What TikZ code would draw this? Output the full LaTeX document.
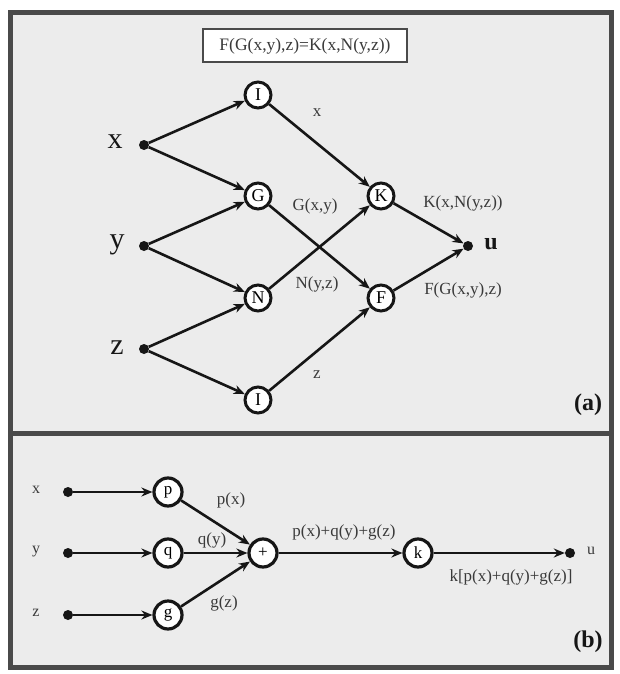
\documentclass[tikz,border=0pt]{standalone}
\usepackage{fontspec}
\setmainfont{Liberation Serif}
\usetikzlibrary{arrows.meta}
\definecolor{bg}{HTML}{ECECEC}
\definecolor{ink}{HTML}{161616}
\definecolor{lab}{HTML}{3A3A3A}
\definecolor{frame}{HTML}{4A4A4A}
\tikzset{
  opnode/.style={circle, draw=ink, line width=3pt, fill=white, minimum size=26pt, inner sep=0pt, font=\fontsize{18}{18}\selectfont},
  opnodeb/.style={circle, draw=ink, line width=3.2pt, fill=white, minimum size=28pt, inner sep=0pt, font=\fontsize{17}{17}\selectfont},
  dotnode/.style={circle, fill=ink, minimum size=10pt, inner sep=0pt},
  conn/.style={draw=ink, line width=2.6pt, -{Stealth[length=11pt,width=9pt]}},
  elab/.style={text=lab, font=\fontsize{17}{17}\selectfont, inner sep=1pt},
  varlab/.style={text=ink, font=\fontsize{30}{30}\selectfont, inner sep=0pt},
  varlabb/.style={text=lab, font=\fontsize{16}{16}\selectfont, inner sep=0pt},
  tag/.style={text=ink, font=\fontsize{24}{24}\selectfont\bfseries, inner sep=0pt},
  panelbox/.style={draw=frame, line width=5pt, fill=bg}
}
\begin{document}
\begin{tikzpicture}[x=1pt,y=-1pt]
\useasboundingbox (0,0) rectangle (619,674);
\fill[white] (0,0) rectangle (619,674);
% panels
\draw[panelbox] (10,13) rectangle (611,433);
\draw[panelbox] (10,433) rectangle (611,667);

% ---------- panel (a) ----------
\node[draw=frame, line width=2pt, fill=white, minimum width=204pt, minimum height=33pt, inner sep=0pt, text=lab, font=\fontsize{17.5}{17.5}\selectfont] (title) at (305,46) {F(G(x,y),z)=K(x,N(y,z))};

\node[dotnode] (xa) at (144,145) {};
\node[dotnode] (ya) at (144,246) {};
\node[dotnode] (za) at (144,349) {};
\node[varlab] (xal) at (115,142) {x};
\node[varlab] (yal) at (117,245) {y};
\node[varlab] (zal) at (117,348) {z};

\node[opnode] (I1) at (258,95) {I};
\node[opnode] (G) at (258,196) {G};
\node[opnode] (N) at (258,298) {N};
\node[opnode] (I2) at (258,400) {I};
\node[opnode] (K) at (381,196) {K};
\node[opnode] (F) at (381,298) {F};
\node[dotnode] (ua) at (468,246) {};
\node[text=ink, font=\fontsize{24}{24}\selectfont\bfseries, inner sep=0pt] (ual) at (491,244) {u};

\draw[conn] (xa) -- (I1);
\draw[conn] (xa) -- (G);
\draw[conn] (ya) -- (G);
\draw[conn] (ya) -- (N);
\draw[conn] (za) -- (N);
\draw[conn] (za) -- (I2);
\draw[conn] (I1) -- (K);
\draw[conn] (G) -- (F);
\draw[conn] (N) -- (K);
\draw[conn] (I2) -- (F);
\draw[conn] (K) -- (ua);
\draw[conn] (F) -- (ua);

\node[elab] (lx) at (317,113) {x};
\node[elab] (lG) at (315,206) {G(x,y)};
\node[elab] (lN) at (317,284) {N(y,z)};
\node[elab] (lz) at (317,375) {z};
\node[elab] (lK) at (463,203) {K(x,N(y,z))};
\node[elab] (lF) at (463,290) {F(G(x,y),z)};
\node[tag] (taga) at (588,405) {(a)};

% ---------- panel (b) ----------
\node[dotnode] (xb) at (68,492) {};
\node[dotnode] (yb) at (68,553) {};
\node[dotnode] (zb) at (68,615) {};
\node[varlabb] (xbl) at (36,490) {x};
\node[varlabb] (ybl) at (36,552) {y};
\node[varlabb] (zbl) at (36,613) {z};

\node[opnodeb] (p) at (168,492) {p};
\node[opnodeb] (q) at (168,553) {q};
\node[opnodeb] (g) at (168,615) {g};
\node[opnodeb] (plus) at (263,553) {+};
\node[opnodeb] (k) at (418,553) {k};
\node[dotnode] (ub) at (570,553) {};
\node[varlabb] (ubl) at (591,551) {u};

\draw[conn] (xb) -- (p);
\draw[conn] (yb) -- (q);
\draw[conn] (zb) -- (g);
\draw[conn] (p) -- (plus);
\draw[conn] (q) -- (plus);
\draw[conn] (g) -- (plus);
\draw[conn] (plus) -- (k);
\draw[conn] (k) -- (ub);

\node[elab] (lp) at (231,500) {p(x)};
\node[elab] (lq) at (212,540) {q(y)};
\node[elab] (lg) at (224,603) {g(z)};
\node[elab] (lsum) at (344,532) {p(x)+q(y)+g(z)};
\node[elab] (lk) at (511,577) {k[p(x)+q(y)+g(z)]};
\node[tag] (tagb) at (588,642) {(b)};
\end{tikzpicture}
\end{document}
